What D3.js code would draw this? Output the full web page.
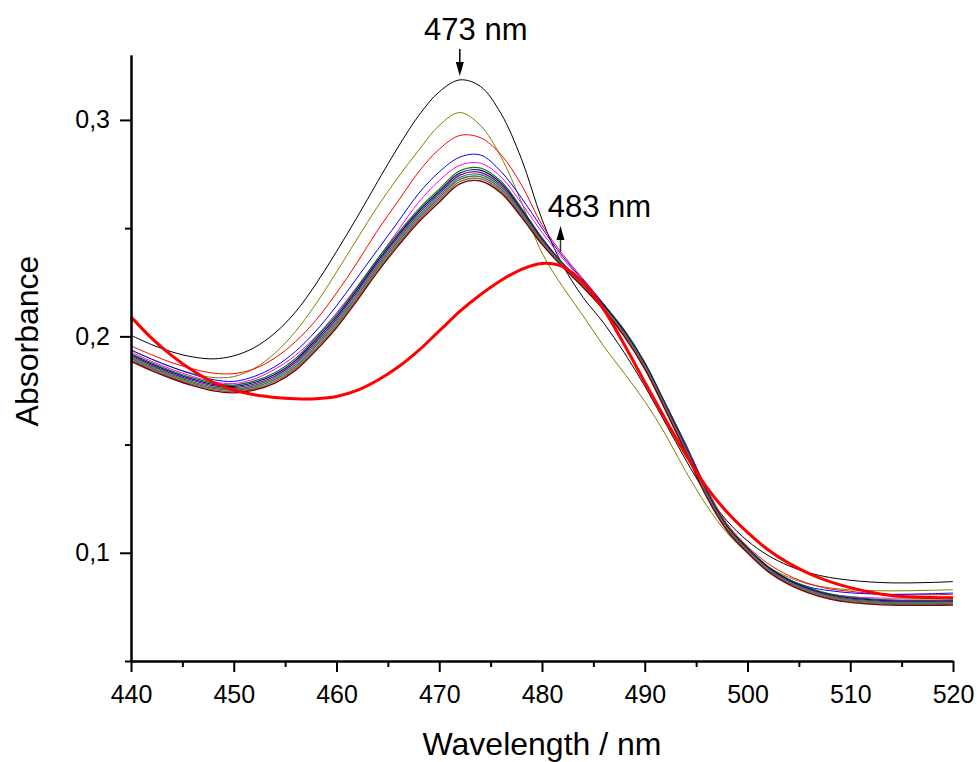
<!DOCTYPE html>
<html><head><meta charset="utf-8">
<script src="https://cdn.jsdelivr.net/npm/d3@7"></script>
<style>
body{margin:0;background:#fff}
svg{display:block}
text{font-family:"Liberation Sans",Arial,Helvetica,sans-serif;fill:#000}
</style>
</head><body>
<svg id="chart" width="980" height="762"></svg>
<script>
// ---------- data ----------
const wavelengths = [440,442,444,446,448,450,452,454,456,458,460,462,464,466,468,470,472,474,476,478,480,482,484,486,488,490,492,494,496,498,500,502,504,506,508,510,512,514,516,518,520];

const absBlack   = [0.2005,0.1962,0.1928,0.1905,0.1896,0.1910,0.1948,0.2015,0.2112,0.2242,0.2392,0.2550,0.2715,0.2875,0.3020,0.3130,0.3185,0.3155,0.3030,0.2820,0.2540,0.2330,0.2180,0.2062,0.1925,0.1770,0.1600,0.1428,0.1272,0.1148,0.1055,0.0988,0.0940,0.0907,0.0886,0.0873,0.0865,0.0861,0.0861,0.0863,0.0867];
const absOlive   = [0.1935,0.1895,0.1858,0.1828,0.1810,0.1814,0.1852,0.1922,0.2022,0.2150,0.2297,0.2450,0.2600,0.2735,0.2860,0.2975,0.3034,0.2975,0.2830,0.2620,0.2385,0.2230,0.2095,0.1955,0.1830,0.1700,0.1548,0.1375,0.1220,0.1092,0.1000,0.0935,0.0887,0.0855,0.0838,0.0829,0.0825,0.0824,0.0825,0.0827,0.0829];
const absRed     = [0.1956,0.1915,0.1878,0.1850,0.1830,0.1828,0.1850,0.1900,0.1975,0.2075,0.2200,0.2340,0.2490,0.2625,0.2760,0.2865,0.2928,0.2918,0.2840,0.2700,0.2515,0.2380,0.2265,0.2150,0.2025,0.1875,0.1690,0.1500,0.1300,0.1135,0.1030,0.0950,0.0895,0.0857,0.0833,0.0822,0.0812,0.0806,0.0805,0.0806,0.0808];
const absBlue    = [0.1938,0.1895,0.1857,0.1825,0.1800,0.1792,0.1815,0.1860,0.1930,0.2025,0.2141,0.2270,0.2400,0.2530,0.2660,0.2760,0.2828,0.2838,0.2762,0.2640,0.2500,0.2370,0.2260,0.2150,0.2025,0.1875,0.1690,0.1500,0.1295,0.1125,0.1018,0.0935,0.0878,0.0842,0.0825,0.0815,0.0810,0.0808,0.0809,0.0811,0.0814];
const absMagenta = [0.1928,0.1885,0.1847,0.1815,0.1790,0.1782,0.1803,0.1848,0.1912,0.2000,0.2108,0.2230,0.2358,0.2490,0.2620,0.2720,0.2790,0.2800,0.2737,0.2615,0.2480,0.2360,0.2255,0.2145,0.2020,0.1870,0.1685,0.1495,0.1292,0.1122,0.1015,0.0930,0.0872,0.0833,0.0810,0.0798,0.0792,0.0790,0.0791,0.0793,0.0797];
const absGreen   = [0.1921,0.1878,0.1840,0.1808,0.1784,0.1775,0.1794,0.1832,0.1897,0.1995,0.2100,0.2225,0.2358,0.2478,0.2588,0.2680,0.2765,0.2778,0.2717,0.2593,0.2455,0.2339,0.2244,0.2147,0.2030,0.1880,0.1690,0.1493,0.1290,0.1127,0.1024,0.0937,0.0878,0.0838,0.0810,0.0795,0.0787,0.0782,0.0781,0.0781,0.0782];
const absNavy    = [0.1915,0.1872,0.1834,0.1802,0.1778,0.1769,0.1787,0.1824,0.1888,0.1985,0.2090,0.2215,0.2348,0.2468,0.2578,0.2670,0.2755,0.2768,0.2708,0.2586,0.2450,0.2336,0.2241,0.2143,0.2025,0.1875,0.1685,0.1488,0.1285,0.1123,0.1020,0.0933,0.0874,0.0834,0.0806,0.0791,0.0783,0.0778,0.0777,0.0777,0.0778];
const absPurple  = [0.1909,0.1866,0.1828,0.1796,0.1772,0.1763,0.1780,0.1816,0.1879,0.1975,0.2080,0.2205,0.2338,0.2458,0.2568,0.2660,0.2745,0.2758,0.2699,0.2579,0.2445,0.2333,0.2238,0.2139,0.2020,0.1870,0.1680,0.1483,0.1280,0.1119,0.1016,0.0929,0.0870,0.0830,0.0802,0.0787,0.0779,0.0774,0.0773,0.0773,0.0774];
const absTeal    = [0.1903,0.1860,0.1822,0.1790,0.1766,0.1757,0.1773,0.1808,0.1870,0.1965,0.2070,0.2195,0.2328,0.2448,0.2558,0.2650,0.2735,0.2748,0.2690,0.2572,0.2440,0.2330,0.2235,0.2135,0.2015,0.1865,0.1675,0.1478,0.1275,0.1115,0.1012,0.0925,0.0866,0.0826,0.0798,0.0783,0.0775,0.0770,0.0769,0.0769,0.0770];
const absBrown   = [0.1897,0.1854,0.1816,0.1784,0.1760,0.1751,0.1766,0.1800,0.1861,0.1955,0.2060,0.2185,0.2318,0.2438,0.2548,0.2640,0.2725,0.2738,0.2681,0.2565,0.2435,0.2327,0.2232,0.2131,0.2010,0.1860,0.1670,0.1473,0.1270,0.1111,0.1008,0.0921,0.0862,0.0822,0.0794,0.0779,0.0771,0.0766,0.0765,0.0765,0.0766];
const absGray    = [0.1891,0.1848,0.1810,0.1778,0.1754,0.1745,0.1759,0.1792,0.1852,0.1945,0.2050,0.2175,0.2308,0.2428,0.2538,0.2630,0.2715,0.2728,0.2672,0.2558,0.2430,0.2324,0.2229,0.2127,0.2005,0.1855,0.1665,0.1468,0.1265,0.1107,0.1004,0.0917,0.0858,0.0818,0.0790,0.0775,0.0767,0.0762,0.0761,0.0761,0.0762];
const absMaroon  = [0.1885,0.1842,0.1804,0.1772,0.1748,0.1739,0.1752,0.1784,0.1843,0.1935,0.2040,0.2165,0.2298,0.2418,0.2528,0.2620,0.2705,0.2718,0.2663,0.2551,0.2425,0.2321,0.2226,0.2123,0.2000,0.1850,0.1660,0.1463,0.1260,0.1103,0.1000,0.0913,0.0854,0.0814,0.0786,0.0771,0.0763,0.0758,0.0757,0.0757,0.0758];
const absFinal   = [0.2090,0.1992,0.1910,0.1842,0.1788,0.1752,0.1730,0.1718,0.1712,0.1712,0.1722,0.1750,0.1797,0.1858,0.1935,0.2025,0.2115,0.2192,0.2258,0.2310,0.2337,0.2322,0.2248,0.2125,0.1962,0.1788,0.1617,0.1452,0.1305,0.1188,0.1094,0.1014,0.0952,0.0904,0.0867,0.0839,0.0818,0.0803,0.0796,0.0793,0.0792];

const xMajorTicks = [440,450,460,470,480,490,500,510,520];
const xMinorTicks = [445,455,465,475,485,495,505,515];
const yMajorTicks = [0.1,0.2,0.3];
const yMajorLabels = ["0,1","0,2","0,3"];
const yMinorTicks = [0.05,0.15,0.25];
const xTitle = "Wavelength / nm";
const yTitle = "Absorbance";
const peakLabels = ["473 nm","483 nm"];
const peakArrowAt = [472, 481.8];

// ---------- layout ----------
const svg = d3.select("#chart");
const x = d3.scaleLinear().domain([440,520]).range([131,953]);
const y = d3.scaleLinear().domain([0.05,0.33]).range([661,55]);

const series = [
  {v:absBlack,   c:"#000000", w:1},
  {v:absOlive,   c:"#808000", w:1},
  {v:absRed,     c:"#ff0000", w:1},
  {v:absBlue,    c:"#0000ff", w:1},
  {v:absMagenta, c:"#ff00ff", w:1},
  {v:absGreen,   c:"#008000", w:1.2},
  {v:absNavy,    c:"#000080", w:1.2},
  {v:absPurple,  c:"#800080", w:1.2},
  {v:absTeal,    c:"#2f7f7f", w:1.4},
  {v:absBrown,   c:"#6b6b2a", w:1.4},
  {v:absGray,    c:"#707070", w:1.4},
  {v:absMaroon,  c:"#800000", w:1.4},
  {v:absFinal,   c:"#ff0000", w:3}
];

const line = d3.line()
  .x((d,i)=>x(wavelengths[i]))
  .y(d=>y(d))
  .curve(d3.curveCatmullRom.alpha(0.5));

svg.append("g").selectAll("path").data(series).join("path")
  .attr("d", d=>line(d.v))
  .attr("fill","none")
  .attr("stroke", d=>d.c)
  .attr("stroke-width", d=>d.w)
  .attr("stroke-linejoin","round");

// ---------- axes ----------
function styleAxis(g){
  g.select(".domain").attr("stroke","#000").attr("stroke-width",2);
  g.selectAll(".tick line").attr("stroke","#000").attr("stroke-width",2);
  g.selectAll("text").attr("font-size",25).attr("font-family",'"Liberation Sans",Arial,sans-serif').attr("fill","#000");
}
const xAxisMinor = svg.append("g").attr("transform","translate(0,661)")
  .call(d3.axisBottom(x).tickValues(xMinorTicks).tickSize(6).tickSizeOuter(0).tickFormat(""));
styleAxis(xAxisMinor);
const xAxis = svg.append("g").attr("transform","translate(0,661)")
  .call(d3.axisBottom(x).tickValues(xMajorTicks).tickSize(11).tickSizeOuter(0).tickPadding(13).tickFormat(d3.format("d")));
styleAxis(xAxis);

const yAxisMinor = svg.append("g").attr("transform","translate(131,0)")
  .call(d3.axisLeft(y).tickValues(yMinorTicks).tickSize(6).tickSizeOuter(0).tickFormat(""));
styleAxis(yAxisMinor);
const yAxis = svg.append("g").attr("transform","translate(131,0)")
  .call(d3.axisLeft(y).tickValues(yMajorTicks).tickSize(11).tickSizeOuter(0).tickPadding(10)
    .tickFormat((d,i)=>yMajorLabels[i]));
styleAxis(yAxis);

// titles
svg.append("text").attr("x",542).attr("y",755).attr("text-anchor","middle")
  .attr("font-size",32).text(xTitle);
svg.append("text").attr("transform","translate(38,341) rotate(-90)").attr("text-anchor","middle")
  .attr("font-size",32).text(yTitle);

// ---------- annotations ----------
const a1x = x(peakArrowAt[0]);
svg.append("text").attr("x", a1x+16).attr("y", 40).attr("text-anchor","middle")
  .attr("font-size",31).text(peakLabels[0]);
svg.append("line").attr("x1",a1x).attr("x2",a1x).attr("y1",49).attr("y2",64)
  .attr("stroke","#000").attr("stroke-width",1.5);
svg.append("path").attr("d",`M${a1x-4},62 L${a1x+4},62 L${a1x},76 Z`).attr("fill","#000");

const a2x = x(peakArrowAt[1]);
svg.append("text").attr("x", a2x+39).attr("y", 217).attr("text-anchor","middle")
  .attr("font-size",31).text(peakLabels[1]);
svg.append("line").attr("x1",a2x).attr("x2",a2x).attr("y1",252).attr("y2",238)
  .attr("stroke","#333").attr("stroke-width",1.5);
svg.append("path").attr("d",`M${a2x-4},240 L${a2x+4},240 L${a2x},226 Z`).attr("fill","#000");
</script>
</body></html>
